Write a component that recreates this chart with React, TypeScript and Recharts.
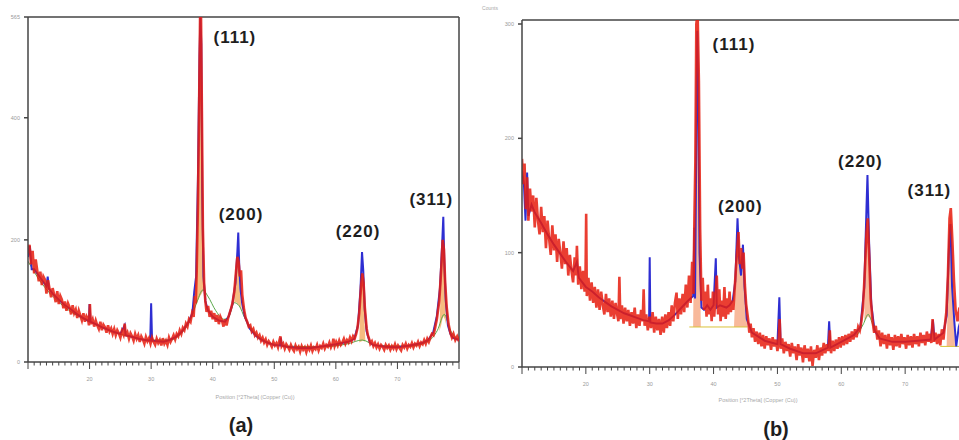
import React from 'react';
import { ComposedChart, Line, Area, XAxis, YAxis, ReferenceLine, ReferenceDot } from 'recharts';

type P = [number, number];
type R = [number, number, number];

// ---------- Panel (a) ----------
const obsA: P[] = [
  [10,178],[10.25,192],[10.5,160],[10.75,182],[11,145],[11.25,168],[11.5,150],[11.75,132],[12,148],[12.25,126],[12.5,140],[12.75,135],[13,112],[13.25,134],[13.5,120],[13.75,106],[14,121],[14.25,110],[14.5,98],[14.75,116],[15,95],[15.25,108],[15.5,102],[15.75,88],[16,99],[16.25,84],[16.5,96],[16.75,90],[17,78],[17.25,93],[17.5,80],[17.75,86],[18,72],[18.25,84],[18.5,76],[18.75,68],[19,80],[19.25,66],[19.5,75],[19.75,70],[19.9,60],[20.05,95],[20.2,62],[20.5,70],[20.75,58],[21,68],[21.25,60],[21.5,54],[21.75,66],[22,52],[22.25,61],[22.5,57],[22.75,48],[23,60],[23.25,50],[23.5,55],[23.75,46],[24,54],[24.25,44],[24.5,52],[24.75,47],[25,40],[25.25,51],[25.5,45],[25.7,63],[25.9,42],[26.15,48],[26.4,38],[26.65,47],[26.9,42],[27.15,35],[27.4,46],[27.65,38],[27.9,44],[28.15,33],[28.4,42],[28.65,37],[28.9,30],[29.15,41],[29.4,34],[29.65,39],[29.9,30],[30.15,40],[30.4,33],[30.65,28],[30.9,38],[31.15,31],[31.4,36],[31.65,27],[31.9,39],[32.15,30],[32.4,35],[32.65,28],[32.9,40],[33.15,33],[33.4,38],[33.65,44],[33.9,37],[34.15,46],[34.4,42],[34.65,52],[34.9,46],[35.15,56],[35.4,52],[35.65,63],[35.9,58],[36.15,70],[36.4,66],[36.65,80],[36.9,74],[37.1,108],[37.25,96],[37.4,150],[37.6,260],[37.8,430],[37.95,565],[38.1,565],[38.25,400],[38.4,220],[38.6,130],[38.8,100],[39,82],[39.25,92],[39.5,74],[39.75,84],[40,70],[40.25,80],[40.5,66],[40.75,77],[41,62],[41.25,74],[41.5,68],[41.75,58],[42,70],[42.25,60],[42.5,72],[42.75,80],[43,88],[43.2,96],[43.5,115],[43.8,150],[44.0,172],[44.2,165],[44.4,140],[44.6,150],[44.8,110],[45.1,85],[45.35,72],[45.6,66],[45.85,58],[46.1,60],[46.35,50],[46.6,54],[46.85,44],[47.1,48],[47.35,40],[47.6,44],[47.85,35],[48.1,40],[48.35,32],[48.6,37],[48.85,28],[49.1,34],[49.35,30],[49.6,25],[49.85,33],[50.1,27],[50.35,31],[50.6,24],[50.85,36],[51.0,42],[51.2,26],[51.45,30],[51.7,22],[51.95,29],[52.2,25],[52.45,20],[52.7,28],[52.95,22],[53.2,18],[53.45,27],[53.7,21],[53.95,25],[54.2,17],[54.45,26],[54.7,20],[54.95,24],[55.2,16],[55.45,25],[55.7,20],[55.95,27],[56.2,18],[56.45,24],[56.7,21],[56.95,28],[57.2,19],[57.45,26],[57.7,23],[57.95,30],[58.2,22],[58.45,28],[58.7,25],[58.95,32],[59.2,24],[59.45,30],[59.6,38],[59.8,26],[60.05,33],[60.3,27],[60.55,35],[60.8,28],[61.05,32],[61.3,38],[61.55,30],[61.8,36],[62.05,32],[62.3,40],[62.55,34],[62.8,42],[63.05,38],[63.3,46],[63.5,55],[63.8,80],[64.1,125],[64.3,145],[64.5,130],[64.7,90],[65,55],[65.2,44],[65.4,38],[65.6,30],[65.85,34],[66.1,26],[66.35,31],[66.6,24],[66.85,29],[67.1,22],[67.35,28],[67.6,25],[67.85,20],[68.1,28],[68.35,23],[68.6,27],[68.85,20],[69.1,26],[69.35,22],[69.6,29],[69.85,21],[70.1,27],[70.35,23],[70.6,19],[70.85,28],[71.1,24],[71.35,30],[71.6,22],[71.85,28],[72.1,25],[72.35,31],[72.6,24],[72.85,30],[73.1,27],[73.35,33],[73.6,26],[73.85,32],[74.1,29],[74.35,36],[74.6,30],[74.85,38],[75.1,33],[75.35,40],[75.6,46],[75.85,44],[76.1,55],[76.4,70],[76.8,100],[77.1,150],[77.35,200],[77.55,185],[77.75,130],[78,90],[78.3,62],[78.6,48],[78.85,40],[79.1,46],[79.4,36],[79.7,42],[80,34]
];

const calcA: P[] = [
  [10,172],[10.3,190],[10.6,152],[11,152],[12,138],[13,124],[13.2,140],[13.4,120],[14,112],[15,102],[16,93],[17,86],[18,78],[19,72],[19.9,67],[20.0,95],[20.15,66],[21,62],[22,57],[23,53],[24,49],[25,46],[25.7,60],[25.85,44],[27,41],[28,38],[29,36],[29.85,35],[30.0,96],[30.15,35],[31,34],[32,33],[33,36],[34,41],[35,50],[36,64],[36.7,80],[37.0,115],[37.3,140],[37.6,300],[37.85,500],[38.0,565],[38.15,520],[38.3,280],[38.5,140],[38.8,100],[39.2,85],[40,74],[41,68],[42,66],[42.6,75],[43.2,95],[43.7,130],[44.0,180],[44.15,212],[44.3,160],[44.5,120],[44.8,95],[45.2,75],[46,55],[47,43],[48,36],[49,31],[50,28],[50.9,27],[51.05,40],[51.2,27],[52,25],[54,23],[56,23],[58,26],[60,29],[62,33],[63,38],[63.6,60],[64.0,120],[64.25,180],[64.45,150],[64.7,85],[65,50],[65.5,33],[66,28],[68,25],[70,24],[72,27],[74,31],[75,36],[75.8,48],[76.4,75],[76.9,120],[77.25,190],[77.45,238],[77.6,170],[77.85,100],[78.2,60],[78.6,46],[79,40],[80,36]
];

const bgA: P[] = [
  [10,165],[12,132],[15,98],[18,76],[20,66],[23,52],[26,43],[30,36],[33,36],[35,48],[36.5,72],[37.5,100],[38.4,118],[39.2,108],[40.5,84],[41.8,70],[42.6,74],[43.5,97],[44.3,92],[45.2,72],[46.5,52],[48,37],[52,26],[58,25],[62,30],[64.3,36],[66.5,27],[72,26],[75,34],[76.5,52],[77.6,78],[78.6,52],[80,36]
];

const fillA111: R[] = [[37.2,92,92],[37.4,95,160],[37.6,100,260],[37.8,105,420],[37.95,108,520],[38.1,110,480],[38.3,114,260],[38.5,117,140],[38.7,118,118]];
const fillA200: R[] = [[43.5,97,97],[43.8,98,140],[44.0,96,170],[44.2,93,160],[44.4,90,120],[44.7,85,85]];
const fillA220: R[] = [[63.8,32,32],[64.0,33,100],[64.2,34,150],[64.4,35,140],[64.6,34,80],[64.8,33,33]];
const fillA311: R[] = [[76.8,50,50],[77.1,60,140],[77.3,70,190],[77.5,75,200],[77.7,70,130],[77.9,62,62]];

const labelsA = [
  { text: '(111)', x: 43.6, y: 523 },
  { text: '(200)', x: 44.6, y: 233 },
  { text: '(220)', x: 63.6, y: 205 },
  { text: '(311)', x: 75.5, y: 257 },
];

// ---------- Panel (b) ----------
const obsB: P[] = [
  [10,182],[10.2,160],[10.4,178],[10.6,138],[10.8,166],[11,128],[11.25,156],[11.5,136],[11.75,150],[12,122],[12.25,148],[12.5,128],[12.75,116],[13,140],[13.25,118],[13.5,132],[13.75,104],[14,128],[14.25,112],[14.5,98],[14.75,124],[15,102],[15.25,116],[15.5,92],[15.75,112],[16,100],[16.25,86],[16.5,110],[16.75,90],[17,104],[17.25,80],[17.5,98],[17.75,84],[18,74],[18.25,96],[18.45,80],[18.6,106],[18.8,72],[19.05,88],[19.3,68],[19.55,84],[19.8,66],[19.95,80],[20.05,134],[20.15,62],[20.4,78],[20.65,58],[20.9,74],[21.15,56],[21.4,70],[21.65,52],[21.9,68],[22.15,50],[22.4,66],[22.65,54],[22.9,46],[23.15,64],[23.4,48],[23.65,60],[23.9,44],[24.15,58],[24.4,42],[24.65,56],[24.9,46],[25.1,40],[25.25,79],[25.4,42],[25.65,54],[25.9,38],[26.15,52],[26.4,40],[26.65,50],[26.9,36],[27.15,48],[27.4,38],[27.65,52],[27.9,34],[28.15,46],[28.4,36],[28.65,50],[28.9,40],[29.05,68],[29.2,36],[29.45,46],[29.7,32],[29.95,44],[30.2,34],[30.45,48],[30.7,30],[30.95,44],[31.2,32],[31.45,42],[31.7,28],[31.95,44],[32.2,30],[32.45,46],[32.7,34],[32.95,48],[33.2,36],[33.45,54],[33.7,40],[33.95,56],[34.2,65],[34.4,42],[34.65,60],[34.9,46],[35.15,64],[35.4,48],[35.65,72],[35.9,52],[36.15,80],[36.4,56],[36.65,92],[36.85,64],[37.0,130],[37.15,180],[37.3,300],[37.5,310],[37.7,250],[37.9,120],[38.1,58],[38.3,78],[38.5,50],[38.7,66],[38.9,44],[39.1,72],[39.3,46],[39.5,60],[39.7,40],[39.9,66],[40.1,44],[40.3,62],[40.5,80],[40.7,46],[40.9,68],[41.1,40],[41.3,58],[41.5,44],[41.7,70],[41.9,42],[42.1,60],[42.3,46],[42.5,66],[42.7,48],[42.9,58],[43.1,50],[43.3,68],[43.6,95],[43.9,118],[44.1,90],[44.3,104],[44.5,86],[44.7,100],[44.9,72],[45.1,55],[45.4,42],[45.6,30],[45.8,38],[46,26],[46.25,34],[46.5,22],[46.75,31],[47,20],[47.25,30],[47.5,18],[47.75,28],[48,16],[48.25,27],[48.5,19],[48.75,25],[49,15],[49.25,26],[49.5,18],[49.75,24],[50,14],[50.2,24],[50.35,42],[50.5,16],[50.75,25],[51,12],[51.25,22],[51.5,14],[51.75,20],[52,9],[52.25,21],[52.5,12],[52.75,18],[53,6],[53.25,20],[53.5,10],[53.75,17],[54,4],[54.25,19],[54.5,8],[54.75,16],[55,5],[55.25,18],[55.5,1],[55.75,15],[56,8],[56.25,19],[56.5,6],[56.75,17],[57,10],[57.25,21],[57.5,12],[57.75,20],[58,14],[58.2,32],[58.4,12],[58.65,23],[58.9,14],[59.15,24],[59.4,16],[59.65,26],[59.9,17],[60.15,27],[60.4,19],[60.65,28],[60.9,20],[61.15,29],[61.4,22],[61.65,31],[61.9,24],[62.15,33],[62.4,26],[62.65,35],[62.9,32],[63.15,40],[63.4,52],[63.7,85],[63.95,118],[64.15,130],[64.35,100],[64.6,60],[64.9,40],[65.15,30],[65.4,36],[65.65,24],[65.9,32],[66.15,18],[66.4,30],[66.65,20],[66.9,28],[67.15,16],[67.4,29],[67.65,19],[67.9,26],[68.15,15],[68.4,28],[68.65,18],[68.9,27],[69.15,17],[69.4,29],[69.65,20],[69.9,26],[70.15,16],[70.4,28],[70.65,19],[70.9,27],[71.15,17],[71.4,29],[71.65,20],[71.9,27],[72.15,18],[72.4,30],[72.65,21],[72.9,28],[73.15,19],[73.4,31],[73.65,22],[73.9,29],[74.1,21],[74.3,42],[74.5,22],[74.75,30],[75,20],[75.25,29],[75.5,19],[75.75,33],[76,24],[76.25,38],[76.45,48],[76.7,80],[76.95,130],[77.15,139],[77.4,110],[77.65,75],[77.9,50],[78.2,40],[78.5,52],[78.8,38],[79.2,48],[79.6,36],[80,44]
];

const calcB: P[] = [
  [10,172],[10.3,160],[10.55,128],[10.8,170],[11,132],[11.5,142],[12,135],[13,126],[14,116],[15,107],[16,99],[17,91],[18,84],[18.6,92],[18.9,78],[20,70],[21,66],[22,61],[23,57],[24,53],[25,50],[26,47],[27,45],[28,43],[29,41],[29.9,40],[30.0,96],[30.1,39],[31,38],[32,38],[33,41],[34,46],[35,52],[36,58],[36.8,62],[37.0,122],[37.1,60],[37.3,200],[37.45,294],[37.6,240],[37.8,100],[38.1,52],[38.5,50],[39,54],[39.5,50],[40,54],[40.35,95],[40.5,52],[41,54],[42,52],[42.5,54],[43,58],[43.4,75],[43.75,130],[44.0,95],[44.3,80],[44.6,107],[44.85,70],[45.2,42],[46,30],[48,23],[50,20],[50.3,61],[50.5,20],[52,16],[54,12],[56,12],[57.9,17],[58.1,40],[58.3,17],[60,22],[62,28],[63,35],[63.6,70],[63.95,140],[64.1,168],[64.35,110],[64.7,55],[65.2,32],[66,25],[68,22],[70,22],[72,23],[74,24],[74.35,41],[74.6,24],[76,30],[76.5,45],[76.9,110],[77.1,125],[77.35,70],[77.7,40],[78,18],[78.4,35],[79,46],[80,42]
];

const baseB111: P[] = [[36.2,35],[45.3,35]];
const baseB220: P[] = [[62.5,28],[63.5,38],[64.2,46],[65,36],[66,26]];
const baseB311: P[] = [[75.5,18],[78.5,18]];

const fillB111: R[] = [[36.8,35,35],[37.0,35,150],[37.2,35,260],[37.4,35,305],[37.6,35,290],[37.8,35,160],[38.0,35,35]];
const fillB200: R[] = [[43.2,35,35],[43.5,35,80],[43.8,35,110],[44.1,35,95],[44.4,35,100],[44.7,35,95],[45.0,35,55],[45.3,35,35]];
const fillB220: R[] = [[63.6,40,40],[63.9,42,110],[64.1,44,125],[64.3,44,100],[64.6,42,42]];
const fillB311: R[] = [[76.5,18,18],[76.8,18,90],[77.0,18,130],[77.2,18,135],[77.45,18,95],[77.8,18,18]];

const labelsB = [
  { text: '(111)', x: 43.2, y: 277 },
  { text: '(200)', x: 44.2, y: 136 },
  { text: '(220)', x: 63.0, y: 175 },
  { text: '(311)', x: 73.8, y: 150 },
];

// ---------- axes ----------
const majorTicks = [20, 30, 40, 50, 60, 70];
const xTicks = Array.from({ length: 71 }, (_, i) => 10 + i);
const yTicksA = [0, 200, 400, 565];
const yTicksB = [0, 100, 200, 300];

const RED = '#e61e10';
const BLUE = '#2e2ed2';
const ORANGE = '#f5b06a';
const SALMON = '#f7ad8a';
const GREEN = '#5aa84a';
const YELLOW = '#d9c23a';
const AXIS = '#444';
const FONT = '"Liberation Sans", Arial, Helvetica, sans-serif';

const pts = (arr: P[]) => arr.map(([x, y]) => ({ x, y }));
const rng = (arr: R[]) => arr.map(([x, lo, hi]) => ({ x, r: [lo, hi] }));

const XTick = (props: any) => {
  const { x, y, payload } = props;
  const v = payload.value as number;
  const major = v % 10 === 0;
  return (
    <g>
      <line x1={x} x2={x} y1={y} y2={y + (major ? 7 : 3.5)} stroke={AXIS} strokeWidth={1} />
      {majorTicks.includes(v) ? (
        <text x={x} y={y + 19} textAnchor="middle" fontSize={5.5} fill="#9a9a9a" fontFamily={FONT}>{v}</text>
      ) : null}
    </g>
  );
};

const peakLabel = (text: string) => (p: any) => (
  <text x={p.cx} y={p.cy} textAnchor="middle" fontSize={17} fontWeight="bold" letterSpacing={1} fill="#1e1e1e" fontFamily={FONT}>{text}</text>
);

type PanelProps = {
  obs: P[]; calc: P[]; yMax: number; yTicks: number[];
  fills: R[][]; fillColor: string; bases: P[][]; baseColors: string[];
  labels: { text: string; x: number; y: number }[];
  width: number; yAxisW: number; top: number; right: number; xAxisH: number; rightBorder: boolean;
};

const Panel = (pp: PanelProps) => (
  <ComposedChart width={pp.width} height={440} margin={{ top: pp.top, right: pp.right, bottom: 0, left: 0 }}>
    <XAxis type="number" dataKey="x" domain={[10, 80]} allowDataOverflow ticks={xTicks} interval={0}
      tick={<XTick />} tickLine={false} tickSize={0} tickMargin={0} height={pp.xAxisH}
      axisLine={{ stroke: AXIS, strokeWidth: 1.5 }} />
    <YAxis type="number" dataKey="y" domain={[0, pp.yMax]} allowDataOverflow ticks={pp.yTicks} interval={0}
      width={pp.yAxisW} tickSize={4} tickMargin={4}
      tick={{ fontSize: 5.5, fill: '#9a9a9a', fontFamily: FONT }}
      tickLine={{ stroke: AXIS, strokeWidth: 1.5 }} axisLine={{ stroke: AXIS, strokeWidth: 1.5 }} />
    <ReferenceLine y={pp.yMax} stroke={AXIS} strokeWidth={1.5} ifOverflow="visible" />
    {pp.rightBorder ? <ReferenceLine x={80} stroke={AXIS} strokeWidth={1.5} ifOverflow="visible" /> : null}
    {pp.fills.map((f, i) => (
      <Area key={'f' + i} data={rng(f)} dataKey="r" type="linear" stroke="none" fill={pp.fillColor}
        fillOpacity={0.85} isAnimationActive={false} dot={false} activeDot={false} />
    ))}
    {pp.bases.map((b, i) => (
      <Line key={'b' + i} data={pts(b)} dataKey="y" type="monotone" stroke={pp.baseColors[i]} strokeWidth={1}
        dot={false} activeDot={false} isAnimationActive={false} />
    ))}
    <Line data={pts(pp.calc)} dataKey="y" type="linear" stroke={BLUE} strokeWidth={2}
      dot={false} activeDot={false} isAnimationActive={false} />
    <Line data={pts(pp.obs)} dataKey="y" type="linear" stroke={RED} strokeWidth={2.6} strokeOpacity={0.86}
      dot={false} activeDot={false} isAnimationActive={false} />
    {pp.labels.map((l) => (
      <ReferenceDot key={l.text} x={l.x} y={l.y} r={0} ifOverflow="visible" shape={peakLabel(l.text)} />
    ))}
  </ComposedChart>
);

export default function App() {
  return (
    <div style={{ position: 'absolute', left: 0, top: 0, width: 959, height: 440, overflow: 'hidden', background: '#fff', fontFamily: FONT }}>
      <div style={{ position: 'absolute', left: 0, top: 0 }}>
        <Panel obs={obsA} calc={calcA} yMax={565} yTicks={yTicksA}
          fills={[fillA111, fillA200, fillA220, fillA311]} fillColor={ORANGE}
          bases={[bgA]} baseColors={[GREEN]} labels={labelsA}
          width={480} yAxisW={28} top={17} right={21} xAxisH={78} rightBorder />
      </div>
      <div style={{ position: 'absolute', left: 480, top: 0 }}>
        <Panel obs={obsB} calc={calcB} yMax={303.5} yTicks={yTicksB}
          fills={[fillB111, fillB200, fillB220, fillB311]} fillColor={SALMON}
          bases={[baseB111, baseB220, baseB311]} baseColors={[YELLOW, GREEN, YELLOW]} labels={labelsB}
          width={499} yAxisW={42} top={20} right={10} xAxisH={73} rightBorder={false} />
      </div>
      <svg width={959} height={440} style={{ position: 'absolute', left: 0, top: 0, pointerEvents: 'none' }}>
        <text x={255} y={399} textAnchor="middle" fontSize={5.5} fill="#a8a8a8" fontFamily={FONT}>Position [°2Theta] (Copper (Cu))</text>
        <text x={758} y={402} textAnchor="middle" fontSize={5.5} fill="#a8a8a8" fontFamily={FONT}>Position [°2Theta] (Copper (Cu))</text>
        <text x={490} y={10} textAnchor="middle" fontSize={5} fill="#a8a8a8" fontFamily={FONT}>Counts</text>
        <text x={241} y={432} textAnchor="middle" fontSize={20} fontWeight="bold" fill="#1e1e1e" fontFamily={FONT}>(a)</text>
        <text x={776} y={436} textAnchor="middle" fontSize={20} fontWeight="bold" fill="#1e1e1e" fontFamily={FONT}>(b)</text>
      </svg>
    </div>
  );
}
